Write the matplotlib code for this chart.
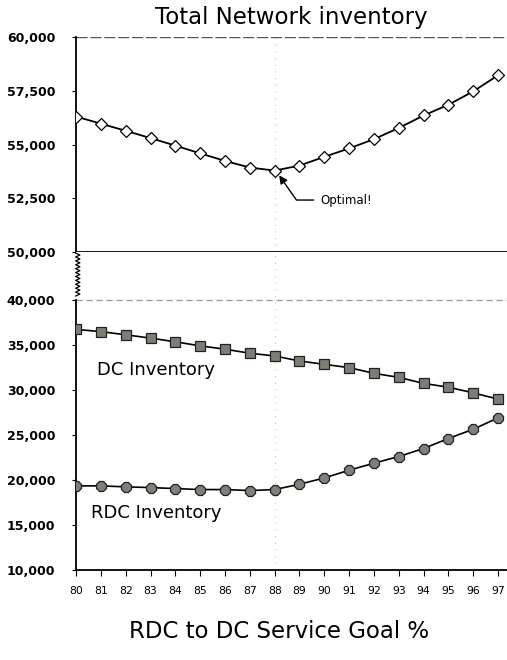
import numpy as np
import matplotlib.pyplot as plt

goal = list(range(80, 98))
total_inv = [56300, 55970, 55640, 55300, 54950, 54590, 54240, 53930, 53790,
             54020, 54430, 54820, 55250, 55770, 56350, 56850, 57470, 58220]
dc_inv = [36750, 36500, 36150, 35780, 35370, 34920, 34550, 34100, 33800,
          33240, 32870, 32500, 31870, 31420, 30750, 30330, 29700, 29000]
rdc_inv = [19370, 19370, 19260, 19180, 19070, 18960, 18960, 18850, 18960,
           19550, 20250, 21110, 21890, 22630, 23520, 24630, 25660, 26920]
optimal_goal = 88

top_ticks = [50000, 52500, 55000, 57500, 60000]
low_ticks = [10000, 15000, 20000, 25000, 30000, 35000, 40000]

fig = plt.figure(figsize=(5.07, 6.60), dpi=100)
ax1 = fig.add_axes([0.150, 0.618, 0.850, 0.326])
ax2 = fig.add_axes([0.150, 0.136, 0.850, 0.482])

xlim = (80, 97.36)

# top panel: total
ax1.plot(goal, total_inv, color='black', lw=1.3, marker='D', ms=6,
         mfc='white', mec='black', mew=0.9, zorder=3)
ax1.set_xlim(*xlim)
ax1.set_ylim(50000, 60000)
ax1.set_yticks(top_ticks)
ax1.set_yticklabels([f"{v:,}" for v in top_ticks])
ax1.set_xticks(goal)
ax1.tick_params(axis='x', direction='out', length=4, labelbottom=False)
ax1.axhline(60000, color='#555555', lw=1.0, ls=(0, (8, 2)), zorder=1)
ax1.spines['top'].set_visible(False)
ax1.spines['right'].set_visible(False)
ax1.spines['bottom'].set_linewidth(1.3)
ax1.spines['left'].set_linewidth(1.3)
ax1.axvline(optimal_goal, color='#c8c8c8', lw=0.8, ls=(0, (1, 5)), zorder=1)
ax1.annotate('Optimal!', xy=(optimal_goal + 0.15, 53620),
             xytext=(89.85, 52420), fontsize=8.5, va='center', ha='left',
             arrowprops=dict(arrowstyle='-|>', color='black', lw=1.0,
                             mutation_scale=12,
                             connectionstyle='angle,angleA=0,angleB=-55,rad=0',
                             shrinkA=3, shrinkB=1))
ax1.set_title('Total Network inventory', fontsize=16.5, pad=9)

# bottom panel: DC and RDC
ax2.plot(goal, dc_inv, color='black', lw=1.2, marker='s', ms=7,
         mfc='#7d7d75', mec='#222222', mew=0.9, zorder=3)
ax2.plot(goal, rdc_inv, color='black', lw=1.2, marker='8', ms=7.5,
         mfc='#808078', mec='#222222', mew=0.9, zorder=3)
ax2.set_xlim(*xlim)
ax2.set_ylim(10000, 45330)
ax2.set_yticks(low_ticks)
ax2.set_yticklabels([f"{v:,}" for v in low_ticks])
ax2.set_xticks(goal)
ax2.set_xticklabels([str(g) for g in goal], fontsize=7.8)
ax2.tick_params(axis='x', direction='out', length=4, pad=7)
ax2.axhline(40000, color='#999999', lw=0.9, ls=(0, (5, 3)), zorder=1)
ax2.axvline(optimal_goal, color='#c8c8c8', lw=0.8, ls=(0, (1, 5)), zorder=1)
ax2.spines['top'].set_visible(False)
ax2.spines['right'].set_visible(False)
ax2.spines['bottom'].set_linewidth(1.3)
ax2.spines['left'].set_linewidth(1.3)
ax2.spines['left'].set_bounds(10000, 40000)
ax2.text(80.85, 32200, 'DC Inventory', fontsize=13, va='center', ha='left')
ax2.text(80.6, 16400, 'RDC Inventory', fontsize=13, va='center', ha='left')

# axis break zigzag
zy = np.linspace(0.862, 0.997, 23)
zx = np.where(np.arange(23) % 2 == 0, -0.001, 0.009)
ax2.plot(zx, zy, transform=ax2.transAxes, color='black', lw=0.9, clip_on=False)

for ax in (ax1, ax2):
    ax.tick_params(axis='y', direction='out', length=3, pad=12, labelsize=9)
    for lab in ax.get_yticklabels():
        lab.set_fontweight('bold')

fig.text(0.55, 0.033, 'RDC to DC Service Goal %', fontsize=16.5, ha='center')

fig.savefig('out.png', dpi=100)
